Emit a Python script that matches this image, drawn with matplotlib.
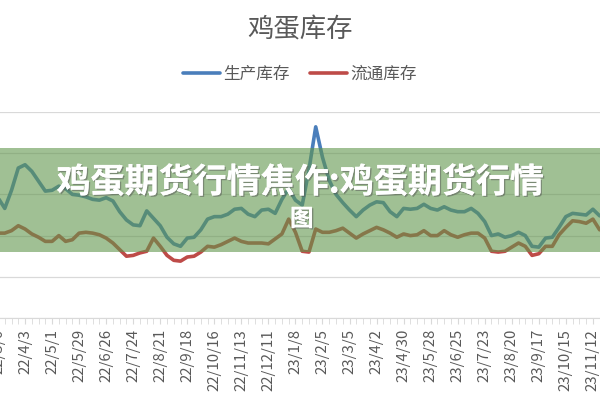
import matplotlib
matplotlib.use("Agg")
import matplotlib.pyplot as plt
import matplotlib.patheffects as pe
from matplotlib.patches import Rectangle
import pandas as pd

plt.rcParams['font.family'] = ['Noto Sans CJK SC', 'DejaVu Sans']

# weekly dates, first one is 22/3/6
dates = pd.date_range('2022-03-06', periods=90, freq='7D')
labels = [f"{d.year % 100}/{d.month}/{d.day}" for d in dates]

# 生产库存 (blue)
prod = [1.46, 1.33, 1.55, 1.82, 1.86, 1.78, 1.66, 1.54, 1.55, 1.60,
        1.57, 1.50, 1.49, 1.47, 1.44, 1.43, 1.46, 1.42, 1.29, 1.19,
        1.13, 1.12, 1.30, 1.21, 1.12, 0.98, 0.90, 0.87, 0.97, 0.98,
        1.07, 1.20, 1.23, 1.23, 1.26, 1.32, 1.33, 1.26, 1.23, 1.31,
        1.32, 1.27, 1.44, 1.57, 1.43, 1.37, 1.80, 2.32, 1.95, 1.67,
        1.50, 1.40, 1.31, 1.23, 1.31, 1.37, 1.41, 1.40, 1.29, 1.23,
        1.33, 1.32, 1.33, 1.38, 1.33, 1.31, 1.35, 1.31, 1.29, 1.29,
        1.33, 1.27, 1.17, 1.00, 1.02, 0.98, 1.00, 1.04, 1.00, 0.87,
        0.86, 0.97, 0.98, 1.10, 1.23, 1.27, 1.26, 1.25, 1.32, 1.24]

# 流通库存 (red)
circ = [1.03, 1.03, 1.06, 1.12, 1.08, 1.02, 0.98, 0.93, 0.93, 1.00,
        0.93, 0.95, 1.03, 1.04, 1.03, 1.01, 0.97, 0.91, 0.83, 0.75,
        0.76, 0.79, 0.81, 0.97, 0.87, 0.76, 0.70, 0.69, 0.74, 0.75,
        0.80, 0.87, 0.86, 0.89, 0.93, 0.97, 0.93, 0.91, 0.91, 0.91,
        0.90, 0.96, 1.02, 1.20, 1.04, 0.81, 0.80, 1.08, 1.04, 1.04,
        1.06, 1.09, 1.03, 0.97, 1.02, 1.06, 1.10, 1.07, 1.03, 0.98,
        1.02, 1.00, 1.01, 1.06, 1.00, 1.00, 1.06, 1.01, 0.98, 1.01,
        1.03, 1.03, 0.97, 0.81, 0.80, 0.81, 0.86, 0.91, 0.87, 0.76,
        0.78, 0.87, 0.87, 1.01, 1.10, 1.18, 1.17, 1.15, 1.20, 1.07]

x = list(range(len(dates)))

fig = plt.figure(figsize=(6, 4), dpi=100)
# plot area runs past both edges of the picture (the original was cropped)
ax = fig.add_axes([-20 / 600, 1 - 318 / 400, 640 / 600, 206 / 400])

ax.plot(x, prod, color='#4A7EBB', lw=2.6, solid_capstyle='round', solid_joinstyle='round', label='生产库存')
ax.plot(x, circ, color='#BE4B48', lw=2.6, solid_capstyle='round', solid_joinstyle='round', label='流通库存')

ax.set_xlim(-18 / 6.76, 622 / 6.76)
ax.set_ylim(0, 2.5)
ax.set_yticks([0, 0.5, 1.0, 1.5, 2.0, 2.5])
ax.tick_params(axis='y', left=False, labelleft=False)
ax.grid(axis='y', color='#D9D9D9', lw=0.9)
ax.set_axisbelow(True)

ax.set_xticks(x[::4])
ax.set_xticklabels(labels[::4], rotation=90, fontsize=10.8, color='#595959')
ax.set_xticks(x, minor=True)
ax.tick_params(axis='x', which='both', direction='out', length=4, color='#D9D9D9', pad=4)

for s in ['left', 'right', 'top']:
    ax.spines[s].set_visible(False)
ax.spines['bottom'].set_color('#D9D9D9')

fig.text(0.5, 1 - 30 / 400, '鸡蛋库存', ha='center', va='center', fontsize=19, color='#595959')
fig.legend(loc='center', bbox_to_anchor=(0.5, 1 - 74 / 400), ncol=2, frameon=False,
           fontsize=12, labelcolor='#595959', handlelength=2.2, handletextpad=0.2,
           columnspacing=1.2)

# green banner with white title over the chart
band = Rectangle((0, 1 - 252 / 400), 1, 104 / 400, transform=fig.transFigure,
                 facecolor='#61964D', alpha=0.6, edgecolor='none', zorder=5)
fig.add_artist(band)
shadow = [pe.withSimplePatchShadow(offset=(1, -1), shadow_rgbFace='#555555', alpha=0.5), pe.Normal()]
fig.text(0.5, 1 - 182 / 400, '鸡蛋期货行情焦作:鸡蛋期货行情', ha='center', va='center',
         fontsize=24.5, fontweight='heavy', color='white', zorder=6, path_effects=shadow)
fig.text(0.503, 1 - 219 / 400, '图', ha='center', va='center',
         fontsize=17, fontweight='heavy', color='white', zorder=6, path_effects=shadow)

fig.savefig('out.png', dpi=100)
